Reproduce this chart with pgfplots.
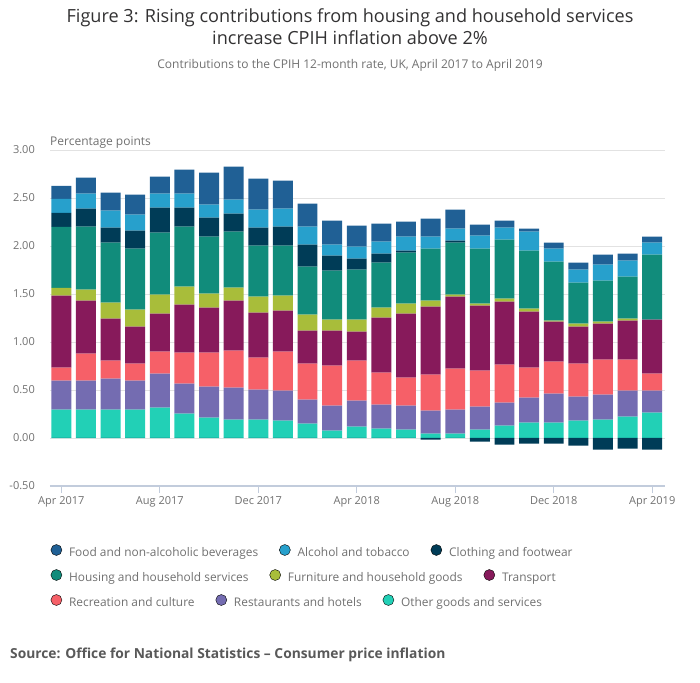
\documentclass[border=0pt]{standalone}
\usepackage{fontspec}
\setmainfont{Open Sans}
\usepackage{pgfplots}
\usepackage{pgfplotstable}
\usetikzlibrary{calc}
\pgfplotsset{compat=1.18}
\definecolor{cfood}{HTML}{206095}
\definecolor{calc}{HTML}{27A0CC}
\definecolor{ccloth}{HTML}{003C57}
\definecolor{chous}{HTML}{118C7B}
\definecolor{cfurn}{HTML}{A8BD3A}
\definecolor{ctran}{HTML}{871A5B}
\definecolor{crec}{HTML}{F66068}
\definecolor{cres}{HTML}{746CB1}
\definecolor{coth}{HTML}{22D0B6}
\definecolor{txt}{HTML}{707070}
\definecolor{titlec}{HTML}{323132}
\definecolor{srcc}{HTML}{595959}
\definecolor{gridc}{HTML}{E2E2E2}
\definecolor{axisc}{HTML}{C2CCDC}

\pgfplotstableread{
x oth res rec tra fur hou clp alc foo cln
0 0.295 0.302 0.135 0.750 0.083 0.635 0.146 0.146 0.135 0
1 0.295 0.302 0.281 0.552 0.115 0.656 0.188 0.156 0.167 0
2 0.295 0.323 0.188 0.437 0.167 0.625 0.156 0.177 0.188 0
3 0.295 0.302 0.177 0.386 0.177 0.635 0.188 0.167 0.208 0
4 0.316 0.354 0.229 0.396 0.198 0.646 0.260 0.146 0.177 0
5 0.253 0.313 0.323 0.500 0.187 0.625 0.198 0.146 0.250 0
6 0.212 0.323 0.354 0.469 0.145 0.594 0.198 0.136 0.333 0
7 0.191 0.333 0.386 0.521 0.135 0.583 0.188 0.146 0.343 0
8 0.191 0.312 0.334 0.469 0.166 0.531 0.188 0.187 0.323 0
9 0.181 0.312 0.406 0.427 0.157 0.520 0.198 0.188 0.292 0
10 0.149 0.250 0.375 0.344 0.167 0.500 0.229 0.187 0.240 0
11 0.076 0.261 0.416 0.365 0.115 0.510 0.156 0.115 0.250 0
12 0.118 0.271 0.417 0.302 0.125 0.520 0.115 0.125 0.219 0
13 0.097 0.250 0.334 0.572 0.105 0.468 0.094 0.125 0.188 0
14 0.087 0.250 0.291 0.667 0.104 0.532 0.020 0.146 0.156 0
15 0.045 0.240 0.375 0.708 0.063 0.541 0 0.125 0.188 -0.017
16 0.045 0.250 0.427 0.750 0.021 0.542 0.021 0.125 0.197 0
17 0.087 0.239 0.375 0.677 0.021 0.573 0 0.136 0.114 -0.038
18 0.128 0.240 0.396 0.656 0.031 0.615 0 0.125 0.073 -0.069
19 0.160 0.260 0.313 0.583 0.031 0.604 0 0.198 0.032 -0.059
20 0.160 0.302 0.333 0.417 0.010 0.615 0 0.135 0.063 -0.059
21 0.181 0.250 0.343 0.386 0.031 0.427 0 0.135 0.073 -0.080
22 0.191 0.260 0.365 0.375 0.021 0.427 0 0.167 0.104 -0.122
23 0.222 0.271 0.323 0.406 0.021 0.438 0 0.166 0.073 -0.111
24 0.264 0.229 0.177 0.563 0 0.677 0 0.125 0.062 -0.122
}\data

\pgfplotsset{
  geom/.style={scale only axis, width=615pt, height=336pt},
  legrow/.style={geom, at={(main.south west)}, anchor=south west,
    hide axis, xmin=0, xmax=1, ymin=0, ymax=1,
    legend columns=-1,
    legend image code/.code={\fill[##1] (5.5pt,0pt) circle[radius=5.5pt];},
    legend style={at={(#1)}, anchor=west, draw=none, fill=none,
      inner sep=0pt, font=\fontsize{11.9}{14}\selectfont, text=txt,
      cells={anchor=west},
      nodes={inner sep=0pt, text height=14pt, text depth=2pt},
      /tikz/every odd column/.append style={column sep=7pt},
      /tikz/every even column/.append style={column sep=21pt}}},
}

\begin{document}
\begin{tikzpicture}
\begin{pgfinterruptboundingbox}
\begin{axis}[geom, name=main,
  xmin=-0.46, xmax=24.52, ymin=-0.5, ymax=3,
  ybar stacked, bar width=0.81,
  axis line style={draw=none},
  ytick={0,0.5,...,3}, extra y ticks={-0.5},
  extra y tick style={grid style={draw=axisc, line width=1.2pt}},
  ymajorgrids, grid style={draw=gridc, line width=0.8pt},
  ytick style={draw=none},
  xtick={0,4,...,24},
  xticklabels={Apr 2017, Aug 2017, Dec 2017, Apr 2018, Aug 2018, Dec 2018, Apr 2019},
  xtick pos=bottom, tick align=outside, major tick length=7pt,
  xtick style={draw=axisc, line width=1pt},
  ticklabel style={font=\fontsize{11}{13}\selectfont, text=txt},
  yticklabel style={anchor=east, inner sep=0pt, xshift=-8pt},
  /pgf/number format/fixed, /pgf/number format/fixed zerofill,
  /pgf/number format/precision=2, /pgf/number format/assume math mode=true,
]
\addplot[fill=coth, draw=none] table[x=x, y=oth] {\data};
\addplot[fill=cres, draw=none] table[x=x, y=res] {\data};
\addplot[fill=crec, draw=none] table[x=x, y=rec] {\data};
\addplot[fill=ctran, draw=none] table[x=x, y=tra] {\data};
\addplot[fill=cfurn, draw=none] table[x=x, y=fur] {\data};
\addplot[fill=chous, draw=none] table[x=x, y=hou] {\data};
\addplot[fill=ccloth, draw=none] table[x=x, y=clp] {\data};
\addplot[fill=calc, draw=none] table[x=x, y=alc] {\data};
\addplot[fill=cfood, draw=none] table[x=x, y=foo] {\data};
\end{axis}

\begin{axis}[geom, at={(main.south west)}, anchor=south west,
  hide axis, xmin=-0.46, xmax=24.52, ymin=-0.5, ymax=3,
  ybar, bar width=0.81]
\addplot[fill=ccloth, draw=none] table[x=x, y=cln] {\data};
\end{axis}

\coordinate (O) at (main.south west);
\coordinate (L1) at ($(O)+(0.5pt,-64pt)$);
\coordinate (L2) at ($(O)+(0.5pt,-89pt)$);
\coordinate (L3) at ($(O)+(0.5pt,-114pt)$);

\begin{axis}[legrow=L1]
\addlegendimage{fill=cfood}\addlegendentry{Food and non-alcoholic beverages}
\addlegendimage{fill=calc}\addlegendentry{Alcohol and tobacco}
\addlegendimage{fill=ccloth}\addlegendentry{Clothing and footwear}
\end{axis}
\begin{axis}[legrow=L2]
\addlegendimage{fill=chous}\addlegendentry{Housing and household services}
\addlegendimage{fill=cfurn}\addlegendentry{Furniture and household goods}
\addlegendimage{fill=ctran}\addlegendentry{Transport}
\end{axis}
\begin{axis}[legrow=L3]
\addlegendimage{fill=crec}\addlegendentry{Recreation and culture}
\addlegendimage{fill=cres}\addlegendentry{Restaurants and hotels}
\addlegendimage{fill=coth}\addlegendentry{Other goods and services}
\end{axis}
\end{pgfinterruptboundingbox}

\path[use as bounding box] ($(O)+(-50pt,-196pt)$) rectangle ($(O)+(650pt,486pt)$);
\node[anchor=base, inner sep=0, font=\fontsize{18.1}{21}\selectfont, text=titlec] at ($(O)+(300pt,463pt)$) {Figure 3: Rising contributions from housing and household services};
\node[anchor=base, inner sep=0, font=\fontsize{18.1}{21}\selectfont, text=titlec] at ($(O)+(300pt,441pt)$) {increase CPIH inflation above 2\%};
\node[anchor=base, inner sep=0, font=\fontsize{12}{14}\selectfont, text=txt] at ($(O)+(300pt,417pt)$) {Contributions to the CPIH 12-month rate, UK, April 2017 to April 2019};
\node[anchor=west, inner sep=0, font=\fontsize{12}{14}\selectfont, text=txt] at ($(O)+(0pt,343pt)$) {Percentage points};
\node[anchor=west, inner sep=0, font=\bfseries\fontsize{13.8}{16}\selectfont, text=srcc] at ($(O)+(-40pt,-169pt)$) {Source: Office for National Statistics – Consumer price inflation};
\end{tikzpicture}
\end{document}
